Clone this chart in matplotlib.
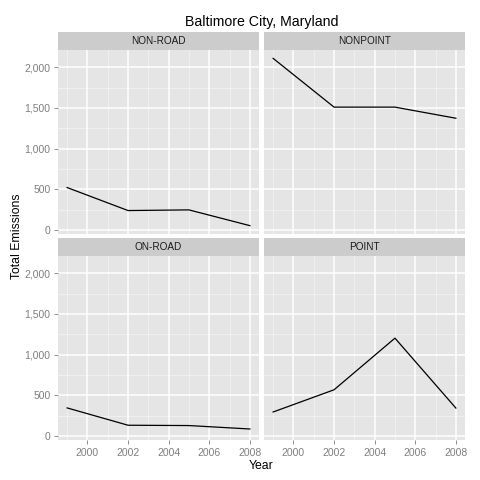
import matplotlib
matplotlib.use("Agg")
import matplotlib.pyplot as plt
import numpy as np

years = [1999, 2002, 2005, 2008]
types = ["NON-ROAD", "NONPOINT", "ON-ROAD", "POINT"]
emissions = {
    "NON-ROAD": [522.94, 240.85, 248.93, 55.82],
    "NONPOINT": [2107.625, 1509.5, 1509.5, 1373.207],
    "ON-ROAD": [346.82, 134.31, 130.43, 88.28],
    "POINT": [296.795, 569.26, 1202.49, 344.975],
}
x_ticks = [2000, 2002, 2004, 2006, 2008]
y_ticks = [0, 500, 1000, 1500, 2000]
y_labels = ["0", "500", "1,000", "1,500", "2,000"]

plt.rcParams["font.family"] = ["Liberation Sans", "DejaVu Sans"]
W = H = 480
fig = plt.figure(figsize=(4.8, 4.8), dpi=100)


def box(x0, y0, x1, y1):
    return [x0 / W, 1 - y1 / H, (x1 - x0) / W, (y1 - y0) / H]


allv = np.concatenate([emissions[t] for t in types])
rng = allv.max() - allv.min()
ylim = (allv.min() - 0.05 * rng, allv.max() + 0.05 * rng)
xr = years[-1] - years[0]
xlim = (years[0] - 0.05 * xr, years[-1] + 0.05 * xr)

cols = [(58, 259), (264, 465)]
rows = [(32, 50, 234), (238, 256, 440)]
for i, t in enumerate(types):
    r, c = divmod(i, 2)
    x0, x1 = cols[c]
    s0, p0, p1 = rows[r]
    ax = fig.add_axes(box(x0, p0, x1, p1))
    ax.set_facecolor("#e5e5e5")
    ax.set_xlim(*xlim); ax.set_ylim(*ylim)
    for xm in [1999, 2001, 2003, 2005, 2007]:
        ax.axvline(xm, color="#f2f2f2", lw=0.6, zorder=0)
    for ym in [250, 750, 1250, 1750]:
        ax.axhline(ym, color="#f2f2f2", lw=0.6, zorder=0)
    for xm in x_ticks:
        ax.axvline(xm, color="white", lw=1.1, zorder=0)
    for ym in y_ticks:
        ax.axhline(ym, color="white", lw=1.1, zorder=0)
    ax.plot(years, emissions[t], color="black", lw=0.9)
    for s in ax.spines.values():
        s.set_visible(False)
    ax.set_xticks(x_ticks)
    ax.set_yticks(y_ticks)
    ax.tick_params(colors="#7f7f7f", length=3, width=0.6, labelsize=7.5, pad=2.5)
    if c == 0:
        ax.set_yticklabels(y_labels)
    else:
        ax.tick_params(axis="y", left=False, labelleft=False)
    if r == 0:
        ax.tick_params(axis="x", bottom=False, labelbottom=False)
    sax = fig.add_axes(box(x0, s0, x1, p0))
    sax.set_facecolor("#cccccc")
    sax.set_xticks([]); sax.set_yticks([])
    for s in sax.spines.values():
        s.set_visible(False)
    sax.text(0.5, 0.5, t, ha="center", va="center", fontsize=7.2, color="#1a1a1a",
             transform=sax.transAxes)

fig.text(261.5 / W, 1 - 22 / H, "Baltimore City, Maryland", ha="center", va="center", fontsize=10.2)
fig.text(261.5 / W, 1 - 466 / H, "Year", ha="center", va="center", fontsize=8.8)
fig.text(17 / W, 1 - 236 / H, "Total Emissions", ha="center", va="center", rotation=90, fontsize=8.8)

fig.savefig("out.png", dpi=100)
